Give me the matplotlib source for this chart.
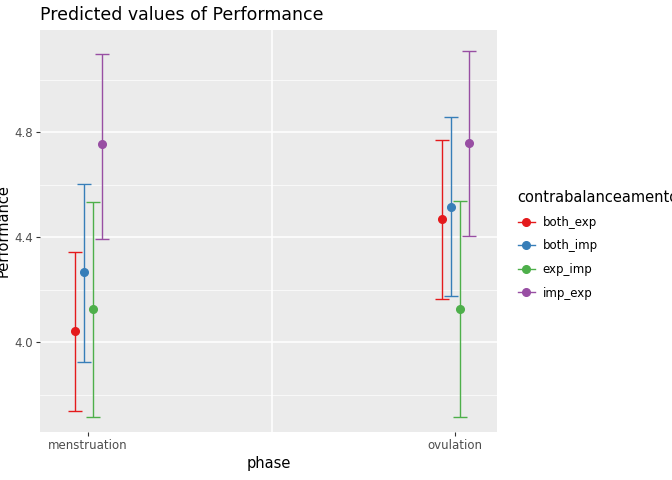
import matplotlib.pyplot as plt
import numpy as np

phases = ["menstruation", "ovulation"]
groups = ["both_exp", "both_imp", "exp_imp", "imp_exp"]
colors = ["#E41A1C", "#377EB8", "#4DAF4A", "#984EA3"]
predicted = {
    "both_exp": [4.042, 4.470],
    "both_imp": [4.268, 4.517],
    "exp_imp": [4.128, 4.128],
    "imp_exp": [4.754, 4.760],
}
low = {
    "both_exp": [3.738, 4.164],
    "both_imp": [3.924, 4.175],
    "exp_imp": [3.714, 3.714],
    "imp_exp": [4.392, 4.404],
}
high = {
    "both_exp": [4.345, 4.772],
    "both_imp": [4.603, 4.857],
    "exp_imp": [4.535, 4.537],
    "imp_exp": [5.097, 5.111],
}
offsets = [-0.0368, -0.0123, 0.0123, 0.0368]

fig = plt.figure(figsize=(6.72, 4.8), dpi=100)
ax = fig.add_axes([40 / 672, 48 / 480, 457 / 672, 402 / 480])
ax.set_facecolor("#EBEBEB")
for s in ax.spines.values():
    s.set_visible(False)

for y in [3.8, 4.2, 4.6, 5.0]:
    ax.axhline(y, color="white", lw=0.5, zorder=0)
for y in [4.0, 4.4, 4.8]:
    ax.axhline(y, color="white", lw=1.1, zorder=0)
ax.axvline(1.5, color="white", lw=1.1, zorder=0)

xs = np.array([1, 2])
handles = []
for g, c, off in zip(groups, colors, offsets):
    p = np.array(predicted[g])
    lo = np.array(low[g])
    hi = np.array(high[g])
    ax.errorbar(xs + off, p, yerr=[p - lo, hi - p], fmt="o", color=c, ms=5.5,
                elinewidth=1, capsize=5, capthick=1, zorder=3)
    handles.append(plt.Line2D([], [], color=c, marker="o", ms=5.5, lw=1, label=g))

ax.set_xlim(0.869, 2.114)
ax.set_ylim(3.658, 5.19)
ax.set_xticks(xs)
ax.set_xticklabels(phases)
ax.set_yticks([4.0, 4.4, 4.8])
ax.set_yticklabels(["4.0", "4.4", "4.8"])
ax.tick_params(colors="#333333", labelsize=8.5, length=3, labelcolor="#4D4D4D", pad=2)
ax.set_xlabel("phase", fontsize=10.5, labelpad=3)
ax.set_ylabel("Performance", fontsize=10.5, labelpad=3)
ax.set_title("Predicted values of Performance", loc="left", fontsize=12.5, pad=7)

fig.legend(handles=handles, title="contrabalanceamento", loc="center left",
           bbox_to_anchor=(507 / 672, 0.49), frameon=False, fontsize=8.5,
           title_fontsize=10.5, handletextpad=0.6, handlelength=1.5,
           labelspacing=0.9, alignment="left")

fig.savefig("out.png", dpi=100)
